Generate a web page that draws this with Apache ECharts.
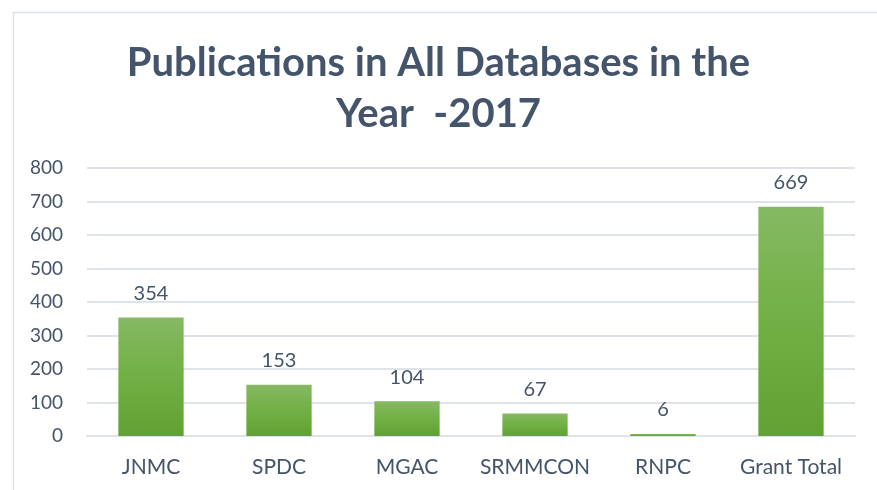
<!DOCTYPE html>
<html>
<head>
<meta charset="utf-8">
<script src="https://cdn.jsdelivr.net/npm/echarts@6/dist/echarts.min.js"></script>
<style>html,body{margin:0;padding:0;background:#fff;}#c{width:877px;height:490px;}</style>
</head>
<body>
<div id="c"></div>
<script>
const categories = ['JNMC', 'SPDC', 'MGAC', 'SRMMCON', 'RNPC', 'Grant Total'];
const values = [354, 153, 104, 67, 6, 684];
const valueLabels = ['354', '153', '104', '67', '6', '669'];
const yTicks = [0, 100, 200, 300, 400, 500, 600, 700, 800];
const titleText = 'Publications in All Databases in the\nYear  -2017';

const textColor = '#44546a';
const chart = echarts.init(document.getElementById('c'));
chart.setOption({
  animation: false,
  backgroundColor: '#ffffff',
  graphic: [{
    type: 'rect', left: 11, top: 10, z: -1,
    shape: { width: 900, height: 500 },
    style: { fill: 'none', stroke: '#dde2ea', lineWidth: 1.5 }
  }],
  title: {
    text: titleText, left: 'center', top: 38, padding: 0,
    textStyle: { fontFamily: 'Lato', fontWeight: 'bold', fontSize: 40, color: textColor, lineHeight: 51 }
  },
  grid: { left: 87, right: 22, top: 168, bottom: 54 },
  xAxis: {
    type: 'category', data: categories,
    axisLine: { show: true, lineStyle: { color: '#dfe3ea', width: 2 } },
    axisTick: { show: false },
    axisLabel: { color: textColor, fontFamily: 'Lato', fontSize: 21, margin: 21, interval: 0 }
  },
  yAxis: {
    type: 'value', min: yTicks[0], max: yTicks[yTicks.length - 1], interval: 100,
    axisLine: { show: false }, axisTick: { show: false },
    splitLine: { lineStyle: { color: '#dfe3ea', width: 2 } },
    axisLabel: { color: textColor, fontFamily: 'Lato', fontSize: 19, margin: 24 }
  },
  series: [{
    type: 'bar', data: values, barWidth: '51%',
    itemStyle: {
      color: new echarts.graphic.LinearGradient(0, 0, 0, 1, [
        { offset: 0, color: '#86b963' },
        { offset: 0.5, color: '#71b044' },
        { offset: 1, color: '#61a032' }
      ])
    },
    label: {
      show: true, position: 'top', distance: 14,
      color: textColor, fontFamily: 'Lato', fontSize: 20,
      formatter: p => valueLabels[p.dataIndex]
    }
  }]
});
</script>
</body>
</html>
